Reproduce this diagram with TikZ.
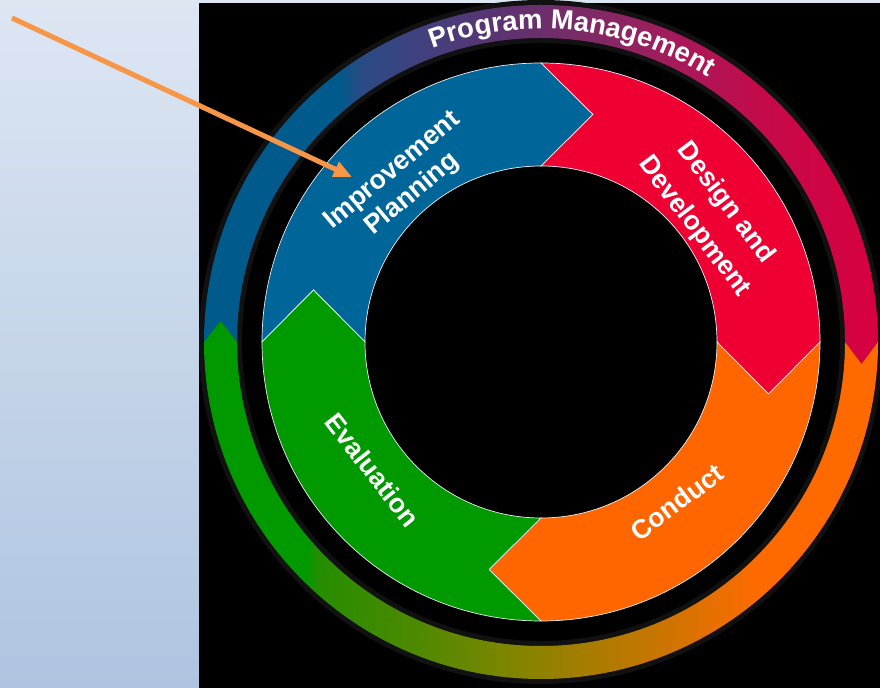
\documentclass[tikz,border=0pt]{standalone}
\usepackage{fontspec, xcolor}
\setmainfont{Liberation Sans}
\usetikzlibrary{arrows.meta, decorations.text}

\definecolor{panetop}{HTML}{DDE6F3}
\definecolor{panebottom}{HTML}{AEC4E0}
\definecolor{halo}{HTML}{111111}
\definecolor{ipblue}{HTML}{00669A}
\definecolor{ddred}{HTML}{EE0033}
\definecolor{cdorange}{HTML}{FF6600}
\definecolor{evgreen}{HTML}{009900}
\definecolor{rimwhite}{HTML}{E6EEF2}
\definecolor{pointerorange}{HTML}{F79646}
\definecolor{pmA}{HTML}{005A8C}
\definecolor{pmB}{HTML}{2A4B85}
\definecolor{pmC}{HTML}{40417E}
\definecolor{pmD}{HTML}{5C3370}
\definecolor{pmE}{HTML}{7F2A66}
\definecolor{pmF}{HTML}{A8195A}
\definecolor{pmG}{HTML}{C50A4A}
\definecolor{pmH}{HTML}{D8003F}
\definecolor{gbA}{HTML}{009900}
\definecolor{gbB}{HTML}{268D00}
\definecolor{gbC}{HTML}{4F8900}
\definecolor{gbD}{HTML}{7A8600}
\definecolor{gbE}{HTML}{A87C00}
\definecolor{gbF}{HTML}{D47300}
\definecolor{gbG}{HTML}{FF6A00}

\pgfdeclarehorizontalshading{pmtop}{100bp}{color(0bp)=(pmA); color(35bp)=(pmA); color(36.6bp)=(pmB); color(41bp)=(pmC); color(47bp)=(pmD); color(53.6bp)=(pmE); color(60.3bp)=(pmF); color(66.6bp)=(pmG); color(75bp)=(pmH); color(100bp)=(pmH)}
\pgfdeclarehorizontalshading{pmbottom}{100bp}{color(0bp)=(gbA); color(32.5bp)=(gbA); color(33.6bp)=(gbB); color(41bp)=(gbC); color(47bp)=(gbD); color(53.6bp)=(gbE); color(60.3bp)=(gbF); color(66.2bp)=(gbG); color(100bp)=(gbG)}

\begin{document}
\begin{tikzpicture}[x=0.025cm, y=0.025cm]
\tikzstyle{every node}+=[inner sep=0pt]
\tikzstyle{phase}=[draw=rimwhite, line width=0.5pt]
\tikzstyle{phaselabel}=[text=white, font=\fontsize{19}{22}\selectfont\bfseries, align=center]
\tikzstyle{pointer}=[draw=pointerorange, line width=3.6pt, -{Triangle[length=13pt,width=11pt]}]
\useasboundingbox (0,0) rectangle (880,688);
\shade [top color=panetop, bottom color=panebottom] (0,0) rectangle (880,688);
\fill [black] (199,0) rectangle (880,685);
\fill [halo, even odd rule] (541,346) circle (342) (541,346) circle (299);
\shade [shading=pmtop] (204,346) arc [start angle=180, end angle=0, radius=337] -- (861.5,324) -- (845,346) arc [start angle=0, end angle=180, radius=304] -- (220.5,367) -- cycle;
\shade [shading=pmbottom] (204,346) -- (220.5,367) -- (237,346) arc [start angle=180, end angle=360, radius=304] -- (861.5,324) -- (878,346) arc [start angle=0, end angle=-180, radius=337] -- cycle;
\path [decorate, decoration={text along path, text align=center, text={|\fontsize{19.5}{23}\selectfont\bfseries\color{white}|Program Management}}] (287.8,530) arc [start angle=144, end angle=24, radius=313];
\filldraw [phase, fill=ipblue] (262,346) arc [start angle=180, end angle=90, radius=279] -- (593,573.5) -- (541,522) arc [start angle=90, end angle=180, radius=176] -- (313.5,398) -- cycle;
\filldraw [phase, fill=ddred] (541,625) arc [start angle=90, end angle=0, radius=279] -- (768.5,294) -- (717,346) arc [start angle=0, end angle=90, radius=176] -- (593,573.5) -- cycle;
\filldraw [phase, fill=cdorange] (820,346) arc [start angle=0, end angle=-90, radius=279] -- (489,118.5) -- (541,170) arc [start angle=-90, end angle=0, radius=176] -- (768.5,294) -- cycle;
\filldraw [phase, fill=evgreen] (541,67) arc [start angle=-90, end angle=-180, radius=279] -- (313.5,398) -- (365,346) arc [start angle=180, end angle=270, radius=176] -- (489,118.5) -- cycle;
\node [phaselabel, rotate=40] (planning) at (402.5,505) {Improvement\\Planning};
\node [phaselabel, rotate=-53, font=\fontsize{19}{28}\selectfont\bfseries] (design) at (710,473) {Design and\\Development};
\node [phaselabel, rotate=37] (conduct) at (677,186) {Conduct};
\node [phaselabel, rotate=-52] (evaluation) at (372.5,218) {Evaluation};
\coordinate (tail) at (12,670);
\coordinate (head) at (352,511);
\draw [pointer] (tail) -- (head);
\end{tikzpicture}
\end{document}
